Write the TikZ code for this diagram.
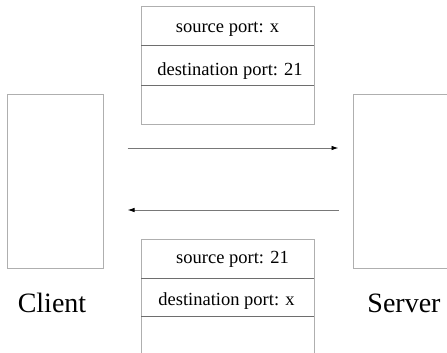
\documentclass[tikz,border=0pt]{standalone}
\usepackage{fontspec}
\setmainfont{Liberation Serif}
\usetikzlibrary{arrows.meta}
\definecolor{edgegray}{RGB}{175,175,175}
\definecolor{divgray}{RGB}{110,110,110}
\definecolor{arrgray}{RGB}{120,120,120}
\tikzset{
  hostbox/.style={draw=edgegray, line width=1pt, rectangle, inner sep=0pt},
  pktbox/.style={draw=edgegray, line width=1pt, rectangle, inner sep=0pt, minimum width=173pt},
  divline/.style={draw=divgray, line width=1pt},
  celltext/.style={font=\fontsize{18.5}{22}\selectfont, inner sep=0pt, anchor=base},
  hostlabel/.style={font=\fontsize{28}{32}\selectfont, inner sep=0pt, anchor=base},
  arr/.style={draw=arrgray, line width=0.9pt, -{Latex[length=7pt,width=4.5pt,color=black]}}
}
\begin{document}
\begin{tikzpicture}[x=1pt,y=-1pt]
\useasboundingbox (0,0) rectangle (447,353);
\clip (0,0) rectangle (447,353);
\fill[white] (0,0) rectangle (447,353);
% hosts
\node[hostbox, minimum width=96pt, minimum height=174pt] (client) at (55,181) {};
\node[hostbox, minimum width=107pt, minimum height=174pt] (server) at (406.5,181) {};
\node[hostlabel] (clientlbl) at (52,312) {Client};
\node[hostlabel] (serverlbl) at (404,312) {Server};
% top packet
\node[pktbox, minimum height=117pt] (top) at (227.5,65.5) {};
\coordinate (t1l) at (141,46); \coordinate (t1r) at (314,46);
\coordinate (t2l) at (141,85); \coordinate (t2r) at (314,85);
\draw[divline] (t1l) -- (t1r);
\draw[divline] (t2l) -- (t2r);
\node[celltext] (tsrc) at (227.5,33) {source port: x};
\node[celltext] (tdst) at (230,76) {destination port: 21};
% bottom packet
\node[pktbox, minimum height=121pt] (bot) at (227.5,299.5) {};
\coordinate (b1l) at (141,278); \coordinate (b1r) at (314,278);
\coordinate (b2l) at (141,316); \coordinate (b2r) at (314,316);
\draw[divline] (b1l) -- (b1r);
\draw[divline] (b2l) -- (b2r);
\node[celltext] (bsrc) at (232.5,263) {source port: 21};
\node[celltext] (bdst) at (226.5,305) {destination port: x};
% arrows
\draw[arr, shorten <=24pt, shorten >=14pt] ([yshift=33pt]client.east) -- ([yshift=33pt]server.west);
\draw[arr, shorten <=14pt, shorten >=24pt] ([yshift=-29pt]server.west) -- ([yshift=-29pt]client.east);
\end{tikzpicture}
\end{document}
